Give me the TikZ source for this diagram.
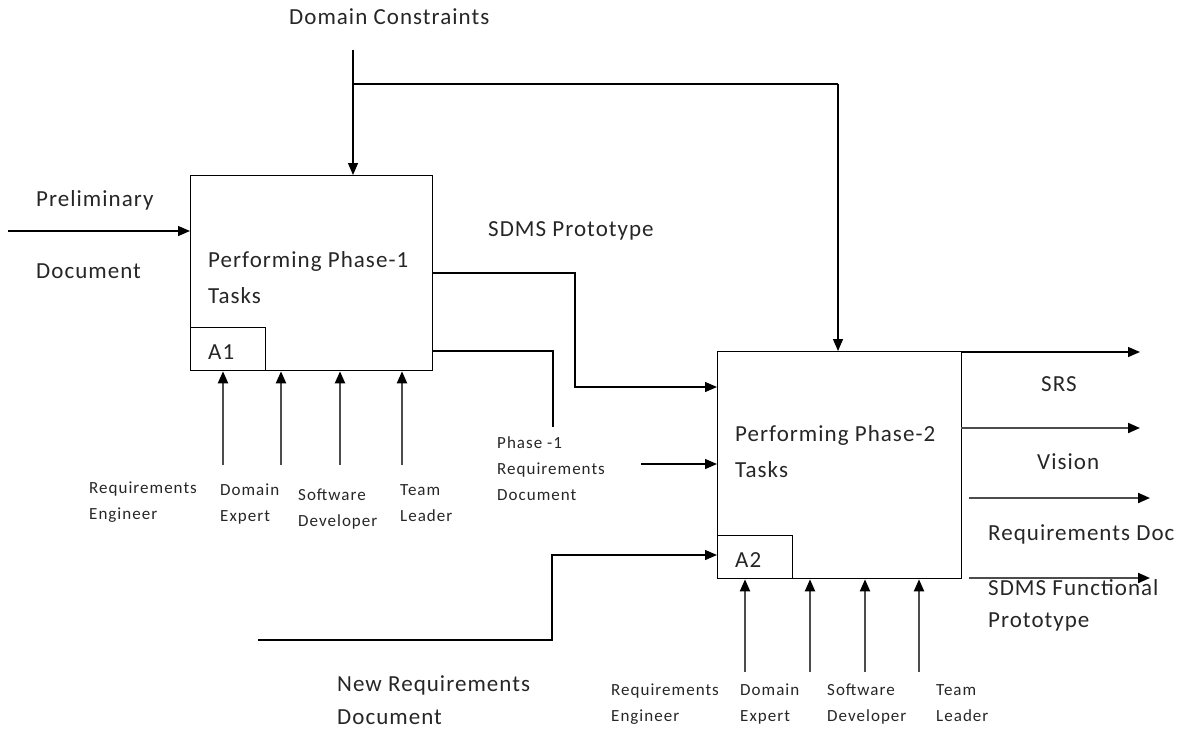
\documentclass[tikz,border=0pt]{standalone}
\usepackage{fontspec}
\setmainfont{Carlito}
\newfontfamily\labelfont[LetterSpace=4.5]{Carlito}
\newfontfamily\namefont[LetterSpace=6]{Carlito}
\usetikzlibrary{arrows.meta}
\begin{document}
\begin{tikzpicture}[x=1pt,y=-1pt,
  box/.style={draw=black,line width=1.3pt,anchor=north west,inner sep=0pt},
  wire/.style={draw=black,line width=1.3pt},
  arr/.style={wire,-{Triangle[length=12pt,width=10pt]}},
  mech/.style={draw=black!70,line width=2pt,-{Triangle[length=12pt,width=10pt,color=black]}},
  big/.style={font=\labelfont\fontsize{23}{25}\selectfont,anchor=west,inner sep=0pt,text=black!85},
  small/.style={font=\namefont\fontsize{17}{26}\selectfont,anchor=north west,inner sep=0pt,align=left,text=black!85}]
\useasboundingbox (0,0) rectangle (1190,731);

% activity boxes
\node[box,minimum width=242pt,minimum height=195pt] (b1) at (190,175) {};
\node[box,minimum width=75pt,minimum height=43pt] (a1) at (190,327) {};
\node[box,minimum width=244pt,minimum height=227pt] (b2) at (717,351) {};
\node[box,minimum width=75pt,minimum height=43pt] (a2) at (717,535) {};

\node[big] (t1a) at (208,261) {Performing Phase-1};
\node[big] (t1b) at (208,296) {Tasks};
\node[big] (n1) at (208,352) {A1};
\node[big] (t2a) at (735,435) {Performing Phase-2};
\node[big] (t2b) at (735,470) {Tasks};
\node[big] (n2) at (735,560) {A2};

% control: domain constraints
\node[big] (dc) at (289,17) {Domain Constraints};
\coordinate (dcs) at (353,50);
\coordinate (split) at (353,84);
\coordinate (turn) at (838,84);
\draw[arr] (dcs) -- (dcs |- b1.north);
\draw[wire] (split) -- (turn);
\draw[arr] (turn) -- (turn |- b2.north);

% input: preliminary document
\node[big] (pd1) at (36,200) {Preliminary};
\node[big] (pd2) at (36,271) {Document};
\coordinate (pds) at (8,231);
\draw[arr] (pds) -- (pds -| b1.west);

% outputs of A1
\node[big] (proto) at (488,231) {SDMS Prototype};
\coordinate (o1a) at (432,273);
\coordinate (o1b) at (575,273);
\coordinate (o1c) at (575,387);
\draw[arr] (o1a) -- (o1b) -- (o1c) -- (o1c -| b2.west);
\coordinate (o2a) at (432,351);
\coordinate (o2b) at (553,351);
\coordinate (o2c) at (553,427);
\draw[wire] (o2a) -- (o2b) -- (o2c);
\node[small] (p1r) at (497,436) {Phase -1\\Requirements\\Document};
\coordinate (p1in) at (641,464);
\draw[arr] (p1in) -- (p1in -| b2.west);

% input: new requirements document
\node[big] (nr1) at (337,685) {New Requirements};
\node[big] (nr2) at (337,717) {Document};
\coordinate (nra) at (258,640);
\coordinate (nrb) at (552,640);
\coordinate (nrc) at (552,555);
\draw[arr] (nra) -- (nrb) -- (nrc) -- (nrc -| b2.west);

% mechanisms of A1
\foreach \x/\n in {223/m1,281/m2,340/m3,402/m4}{
  \coordinate (\n) at (\x,465);
  \draw[mech] (\n) -- (\n |- b1.south);
}
\node[small] (re1) at (89,482) {Requirements\\Engineer};
\node[small] (de1) at (220,484) {Domain\\Expert};
\node[small] (sd1) at (298,489) {Software\\Developer};
\node[small] (tl1) at (400,484) {Team\\Leader};

% mechanisms of A2
\foreach \x/\n in {745/k1,810/k2,865/k3,919/k4}{
  \coordinate (\n) at (\x,672);
  \draw[mech] (\n) -- (\n |- b2.south);
}
\node[small] (re2) at (611,684) {Requirements\\Engineer};
\node[small] (de2) at (740,684) {Domain\\Expert};
\node[small] (sd2) at (827,684) {Software\\Developer};
\node[small] (tl2) at (936,684) {Team\\Leader};

% outputs of A2
\coordinate (q1) at (961,352);
\coordinate (q1e) at (1140,352);
\draw[arr] (q1) -- (q1e);
\node[big] (srs) at (1041,384) {SRS};
\coordinate (q2) at (961,428);
\coordinate (q2e) at (1140,428);
\draw[mech] (q2) -- (q2e);
\node[big] (vis) at (1037,462) {Vision};
\coordinate (q3) at (969,498);
\coordinate (q3e) at (1150,498);
\draw[mech] (q3) -- (q3e);
\node[big] (rd) at (988,534) {Requirements Doc};
\coordinate (q4) at (969,578);
\coordinate (q4e) at (1150,578);
\draw[mech] (q4) -- (q4e);
\node[big] (sf1) at (988,588) {SDMS Functional};
\node[big] (sf2) at (988,622) {Prototype};
\end{tikzpicture}
\end{document}
